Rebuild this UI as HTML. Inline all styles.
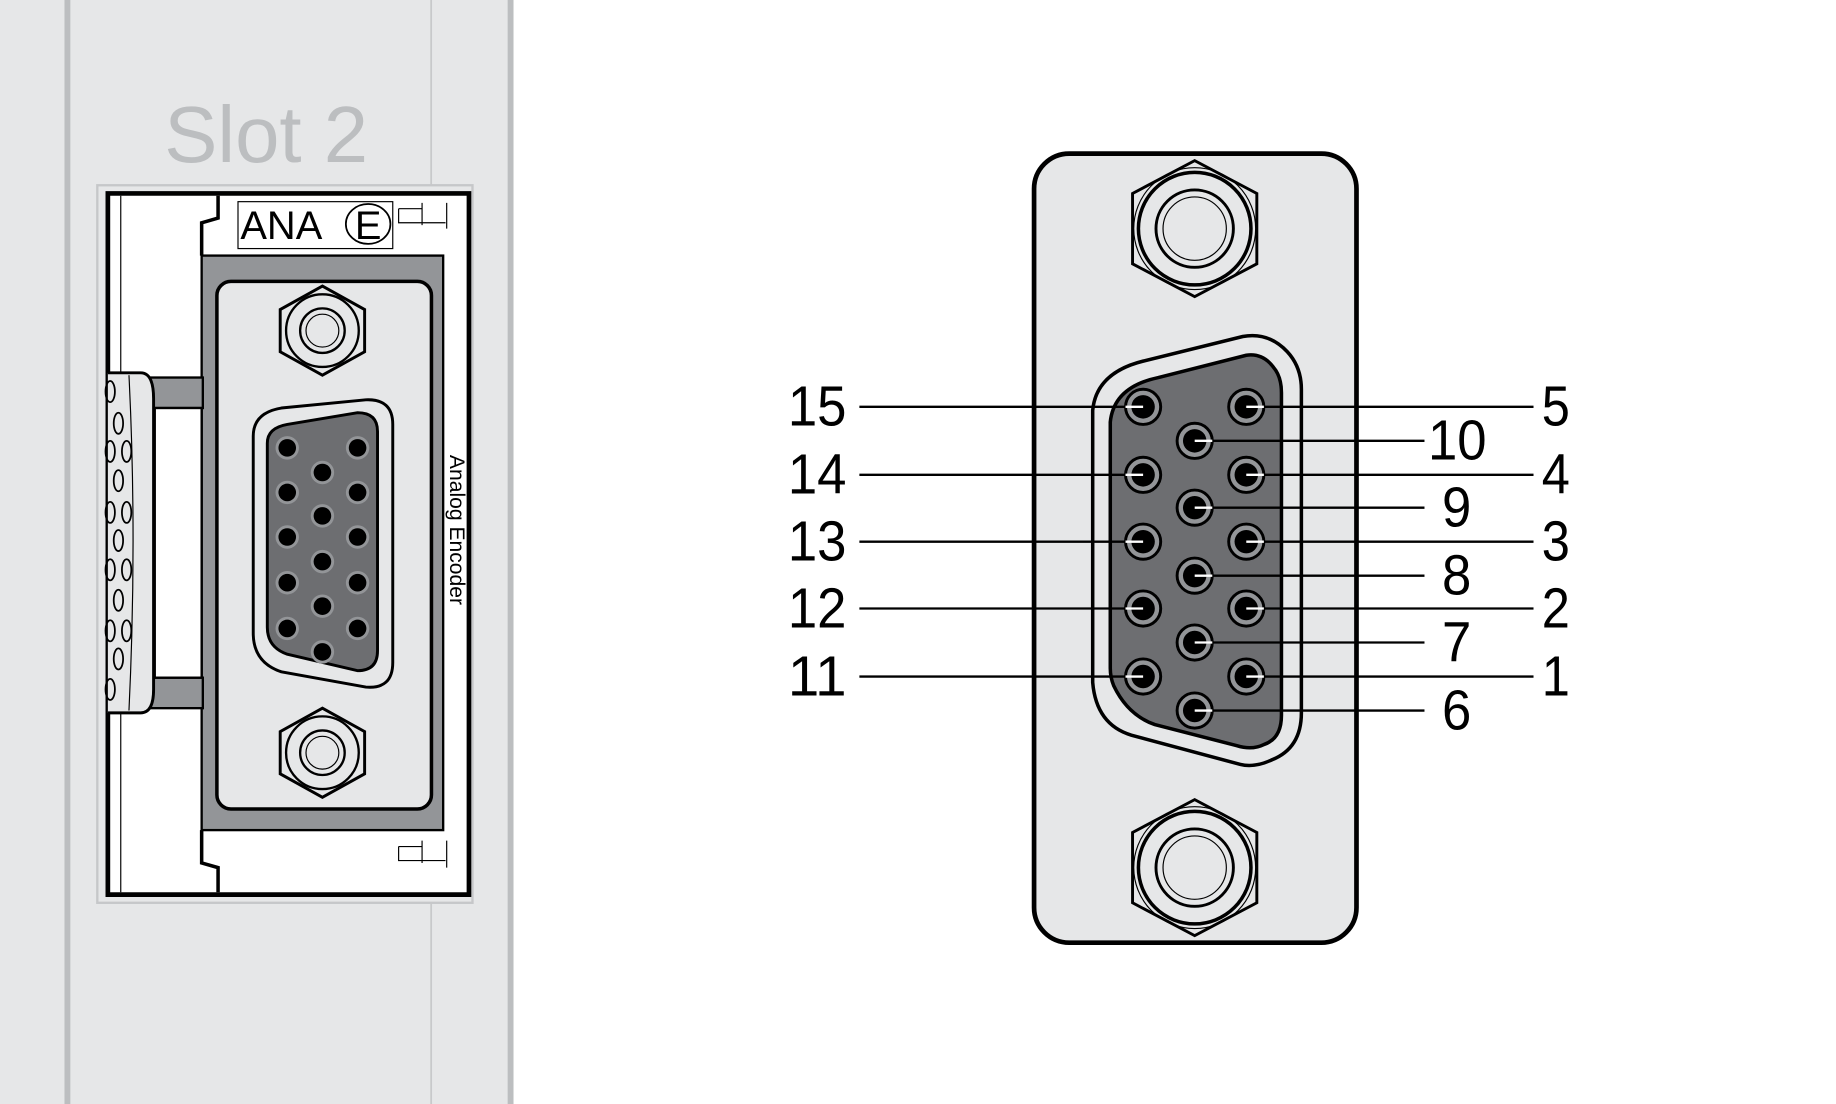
<!DOCTYPE html>
<html><head><meta charset="utf-8"><style>
html,body{margin:0;padding:0;background:#fff;}
svg{display:block}
text{font-family:"Liberation Sans",sans-serif;}
</style></head><body>
<svg width="1836" height="1104" viewBox="0 0 1566 941.6" preserveAspectRatio="none" xmlns="http://www.w3.org/2000/svg">
<defs>
<g id="spin"><circle r="10" fill="#939598"/><circle r="7.5" fill="#000"/></g>
<g id="bpin"><circle r="15" fill="#939598" stroke="#000" stroke-width="2.5"/><circle r="10" fill="#000"/></g>
</defs>
<rect x="0" y="0" width="437" height="942" fill="#e6e7e8"/>
<rect x="55" y="0" width="5" height="942" fill="#bcbec0"/>
<rect x="367" y="0" width="1.5" height="942" fill="#c8c9cb"/>
<rect x="433" y="0" width="5" height="942" fill="#bcbec0"/>
<text x="227" y="138" font-size="68" fill="#bcbec0" text-anchor="middle">Slot 2</text>
<rect x="83" y="158" width="320" height="612" fill="#e6e7e8" stroke="#c6c7c9" stroke-width="2"/>
<path d="M92 165 H400 V763 H92 Z" fill="#fff" stroke="#000" stroke-width="4"/>
<line x1="103" y1="167" x2="103" y2="761" stroke="#000" stroke-width="1"/>
<path d="M172 218 V190 L186 186 V167" fill="none" stroke="#000" stroke-width="3"/>
<path d="M172 708 V736 L186 740 V761" fill="none" stroke="#000" stroke-width="3"/>
<rect x="172" y="218" width="206" height="490" fill="#939598" stroke="#000" stroke-width="2"/>
<rect x="185" y="240" width="183" height="450" rx="12" fill="#e6e7e8" stroke="#000" stroke-width="3"/>
<rect x="128" y="322" width="45" height="26" fill="#939598" stroke="#000" stroke-width="2"/>
<rect x="128" y="578" width="45" height="26" fill="#939598" stroke="#000" stroke-width="2"/>
<rect x="132" y="348" width="40" height="230" fill="#fff" stroke="#000" stroke-width="2"/>
<path d="M92 318 H120 Q131 318 131 340 V588 Q131 608 120 608 H92" fill="#e6e7e8" stroke="#000" stroke-width="2.5"/>
<path d="M110 320 Q117 460 110 606" fill="none" stroke="#000" stroke-width="1"/>
<g fill="none" stroke="#000" stroke-width="1.5">
<ellipse cx="94" cy="334" rx="4" ry="9"/><ellipse cx="101" cy="361" rx="4" ry="9"/><ellipse cx="94" cy="385" rx="4" ry="9"/><ellipse cx="108" cy="385" rx="4" ry="9"/><ellipse cx="101" cy="410" rx="4" ry="9"/><ellipse cx="94" cy="437" rx="4" ry="9"/><ellipse cx="108" cy="437" rx="4" ry="9"/><ellipse cx="101" cy="461" rx="4" ry="9"/><ellipse cx="94" cy="486" rx="4" ry="9"/><ellipse cx="108" cy="486" rx="4" ry="9"/><ellipse cx="101" cy="512" rx="4" ry="9"/><ellipse cx="94" cy="538" rx="4" ry="9"/><ellipse cx="108" cy="538" rx="4" ry="9"/><ellipse cx="101" cy="562" rx="4" ry="9"/><ellipse cx="94" cy="588" rx="4" ry="9"/>
</g>
<rect x="203" y="172" width="132" height="40" fill="#fff" stroke="#000" stroke-width="1"/>
<text x="205" y="204" font-size="34" fill="#000">ANA</text>
<ellipse cx="314" cy="191" rx="19" ry="17" fill="none" stroke="#000" stroke-width="1.5"/>
<text x="314" y="204" font-size="34" fill="#000" text-anchor="middle">E</text>
<path d="M340 178 H360 M340 178 V190 H380 M360 173 V192 M381 173 V195" fill="none" stroke="#000" stroke-width="1"/>
<path d="M340 722 H360 M340 722 V734 H380 M360 717 V736 M381 717 V740" fill="none" stroke="#000" stroke-width="1"/>
<text transform="translate(384,388) rotate(90)" font-size="18" fill="#000">Analog Encoder</text>
<g transform="translate(275,282)"><polygon points="0,-38 36,-18 36,18 0,38 -36,18 -36,-18" fill="#e6e7e8" stroke="#000" stroke-width="2.5"/><circle r="31" fill="#e6e7e8" stroke="#000" stroke-width="2"/><circle r="19" fill="#e6e7e8" stroke="#000" stroke-width="2"/><circle r="14" fill="none" stroke="#000" stroke-width="1"/></g>
<g transform="translate(275,642)"><polygon points="0,-38 36,-18 36,18 0,38 -36,18 -36,-18" fill="#e6e7e8" stroke="#000" stroke-width="2.5"/><circle r="31" fill="#e6e7e8" stroke="#000" stroke-width="2"/><circle r="19" fill="#e6e7e8" stroke="#000" stroke-width="2"/><circle r="14" fill="none" stroke="#000" stroke-width="1"/></g>
<path d="M240 348 L312 341 Q335 340 335 362 V565 Q335 588 312 586 L240 573 Q216 565 216 540 V372 Q216 352 240 348 Z" fill="#e6e7e8" stroke="#000" stroke-width="2.5"/>
<path d="M245 362 L305 352 Q322 352 322 368 V555 Q322 572 305 572 L245 558 Q228 552 228 535 V378 Q228 365 245 362 Z" fill="#6d6e71" stroke="#000" stroke-width="2.5"/>
<g>
<use href="#spin" x="245" y="382"/><use href="#spin" x="305" y="382"/><use href="#spin" x="245" y="420"/><use href="#spin" x="305" y="420"/><use href="#spin" x="245" y="458"/><use href="#spin" x="305" y="458"/><use href="#spin" x="245" y="497"/><use href="#spin" x="305" y="497"/><use href="#spin" x="245" y="536"/><use href="#spin" x="305" y="536"/>
<use href="#spin" x="275" y="403"/><use href="#spin" x="275" y="440"/><use href="#spin" x="275" y="479"/><use href="#spin" x="275" y="517"/><use href="#spin" x="275" y="556"/>
</g>
<rect x="882" y="131" width="275" height="673" rx="30" fill="#e6e7e8" stroke="#000" stroke-width="4"/>
<g transform="translate(1019,195)"><polygon points="0,-58 53,-30 53,30 0,58 -53,30 -53,-30" fill="#e6e7e8" stroke="#000" stroke-width="2.5"/><circle r="52" fill="none" stroke="#000" stroke-width="1"/><circle r="48" fill="#e6e7e8" stroke="#000" stroke-width="3"/><circle r="33" fill="#e6e7e8" stroke="#000" stroke-width="2.5"/><circle r="27" fill="none" stroke="#000" stroke-width="1"/></g>
<g transform="translate(1019,740)"><polygon points="0,-58 53,-30 53,30 0,58 -53,30 -53,-30" fill="#e6e7e8" stroke="#000" stroke-width="2.5"/><circle r="52" fill="none" stroke="#000" stroke-width="1"/><circle r="48" fill="#e6e7e8" stroke="#000" stroke-width="3"/><circle r="33" fill="#e6e7e8" stroke="#000" stroke-width="2.5"/><circle r="27" fill="none" stroke="#000" stroke-width="1"/></g>
<path d="M975 308 L1060 287 Q1082 283 1098 300 Q1110 313 1110 332 V608 Q1110 638 1085 648 Q1070 655 1058 652 L965 627 Q935 618 932 582 V350 Q935 318 975 308 Z" fill="#e6e7e8" stroke="#000" stroke-width="3"/>
<path d="M988 322 L1063 303 Q1077 301 1086 313 Q1093 321 1093 335 V610 Q1093 630 1078 635 Q1068 640 1055 636 L985 618 Q962 610 950 585 Q947 578 947 570 V360 Q950 330 988 322 Z" fill="#6d6e71" stroke="#000" stroke-width="3"/>
<g stroke="#000" stroke-width="2">
<line x1="733" y1="347" x2="975" y2="347"/><line x1="733" y1="405" x2="975" y2="405"/><line x1="733" y1="462" x2="975" y2="462"/><line x1="733" y1="519" x2="975" y2="519"/><line x1="733" y1="577" x2="975" y2="577"/>
<line x1="1063" y1="347" x2="1308" y2="347"/><line x1="1063" y1="405" x2="1308" y2="405"/><line x1="1063" y1="462" x2="1308" y2="462"/><line x1="1063" y1="519" x2="1308" y2="519"/><line x1="1063" y1="577" x2="1308" y2="577"/>
<line x1="1019" y1="376" x2="1215" y2="376"/><line x1="1019" y1="433" x2="1215" y2="433"/><line x1="1019" y1="491" x2="1215" y2="491"/><line x1="1019" y1="548" x2="1215" y2="548"/><line x1="1019" y1="606" x2="1215" y2="606"/>
</g>
<g>
<use href="#bpin" x="975" y="347"/><use href="#bpin" x="975" y="405"/><use href="#bpin" x="975" y="462"/><use href="#bpin" x="975" y="519"/><use href="#bpin" x="975" y="577"/>
<use href="#bpin" x="1063" y="347"/><use href="#bpin" x="1063" y="405"/><use href="#bpin" x="1063" y="462"/><use href="#bpin" x="1063" y="519"/><use href="#bpin" x="1063" y="577"/>
<use href="#bpin" x="1019" y="376"/><use href="#bpin" x="1019" y="433"/><use href="#bpin" x="1019" y="491"/><use href="#bpin" x="1019" y="548"/><use href="#bpin" x="1019" y="606"/>
</g>
<g stroke="#fff" stroke-width="2">
<line x1="960" y1="347" x2="975" y2="347"/><line x1="960" y1="405" x2="975" y2="405"/><line x1="960" y1="462" x2="975" y2="462"/><line x1="960" y1="519" x2="975" y2="519"/><line x1="960" y1="577" x2="975" y2="577"/>
<line x1="1063" y1="347" x2="1078" y2="347"/><line x1="1063" y1="405" x2="1078" y2="405"/><line x1="1063" y1="462" x2="1078" y2="462"/><line x1="1063" y1="519" x2="1078" y2="519"/><line x1="1063" y1="577" x2="1078" y2="577"/>
<line x1="1019" y1="376" x2="1034" y2="376"/><line x1="1019" y1="433" x2="1034" y2="433"/><line x1="1019" y1="491" x2="1034" y2="491"/><line x1="1019" y1="548" x2="1034" y2="548"/><line x1="1019" y1="606" x2="1034" y2="606"/>
</g>
<g font-size="48" fill="#000" lengthAdjust="spacingAndGlyphs">
<text x="672" y="363" textLength="50" lengthAdjust="spacingAndGlyphs">15</text><text x="672" y="421" textLength="50" lengthAdjust="spacingAndGlyphs">14</text><text x="672" y="478" textLength="50" lengthAdjust="spacingAndGlyphs">13</text><text x="672" y="535" textLength="50" lengthAdjust="spacingAndGlyphs">12</text><text x="672" y="593" textLength="50" lengthAdjust="spacingAndGlyphs">11</text>
<text x="1315" y="363" textLength="24" lengthAdjust="spacingAndGlyphs">5</text><text x="1315" y="421" textLength="24" lengthAdjust="spacingAndGlyphs">4</text><text x="1315" y="478" textLength="24" lengthAdjust="spacingAndGlyphs">3</text><text x="1315" y="535" textLength="24" lengthAdjust="spacingAndGlyphs">2</text><text x="1315" y="593" textLength="24" lengthAdjust="spacingAndGlyphs">1</text>
<text x="1218" y="392" textLength="50" lengthAdjust="spacingAndGlyphs">10</text><text x="1230" y="449" textLength="25" lengthAdjust="spacingAndGlyphs">9</text><text x="1230" y="507" textLength="25" lengthAdjust="spacingAndGlyphs">8</text><text x="1230" y="564" textLength="25" lengthAdjust="spacingAndGlyphs">7</text><text x="1230" y="622" textLength="25" lengthAdjust="spacingAndGlyphs">6</text>
</g>
</svg>
</body></html>
